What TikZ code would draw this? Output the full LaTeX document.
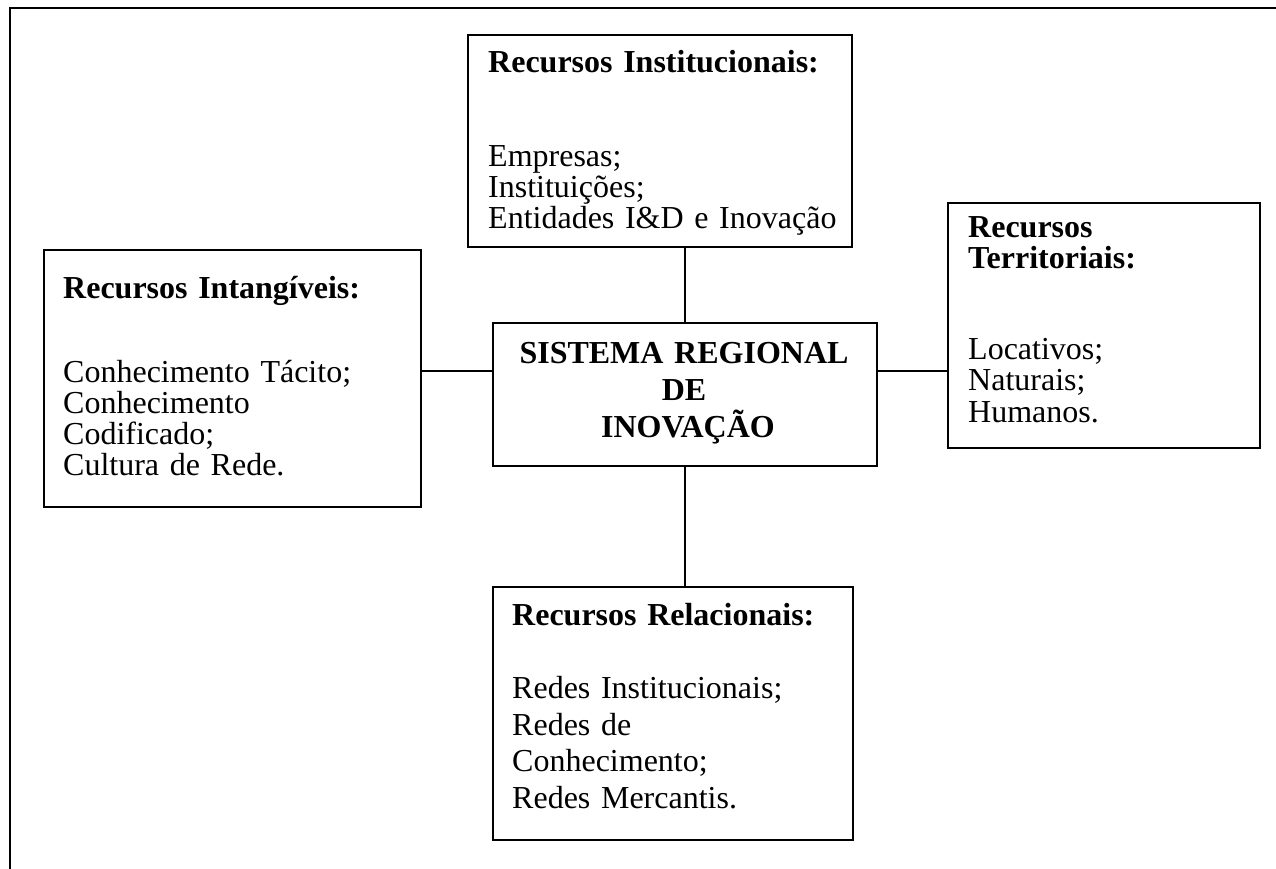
\documentclass[tikz,border=0pt]{standalone}
\usepackage{fontspec}
\setmainfont{Liberation Serif}
\setlength{\lineskiplimit}{-100pt}
\begin{document}
\begin{tikzpicture}[x=1pt,y=-1pt,
  box/.style={draw, line width=1.8pt, inner sep=0pt, anchor=north west},
  txt/.style={anchor=base west, inner sep=0pt, text width=400pt, align=left},
  link/.style={line width=1.8pt}]
\useasboundingbox (0,0) rectangle (1276,869);
\draw[line width=2.2pt] (10,869) -- (10,8) -- (1276,8);

% boxes
\node[box, minimum width=384pt, minimum height=212pt] (inst) at (467,34) {};
\node[box, minimum width=377pt, minimum height=257pt] (intg) at (43,249) {};
\node[box, minimum width=312pt, minimum height=245pt] (terr) at (947,202) {};
\node[box, minimum width=360pt, minimum height=253pt] (rel) at (492,586) {};
\node[box, minimum width=384pt, minimum height=143pt] (sri) at (492,322) {};

% texts
\node[txt, font=\fontsize{32}{31}\selectfont] (instT) at (488,73)
  {\textbf{Recursos Institucionais:}\\[62.5pt]Empresas;\\Instituições;\\Entidades I\&D e Inovação};
\node[txt, font=\fontsize{32}{31}\selectfont] (intgT) at (63,298)
  {\textbf{Recursos Intangíveis:}\\[53.5pt]Conhecimento Tácito;\\Conhecimento\\Codificado;\\Cultura de Rede.};
\node[txt, font=\fontsize{32}{31.5}\selectfont] (terrT) at (968,237)
  {\textbf{Recursos}\\\textbf{Territoriais:}\\[59pt]Locativos;\\Naturais;\\Humanos.};
\node[txt, font=\fontsize{32}{36.7}\selectfont] (relT) at (512,625)
  {\textbf{Recursos Relacionais:}\\[36.7pt]Redes Institucionais;\\Redes de\\Conhecimento;\\Redes Mercantis.};
\node[anchor=base, inner sep=0pt, text width=384pt, align=center,
  font=\bfseries\fontsize{32}{37}\selectfont] (sriT) at (684,363)
  {SISTEMA REGIONAL\\DE\\\hspace*{8pt}INOVAÇÃO};

% connectors
\coordinate (hy) at (0,371);
\draw[link] (intg.east |- hy) -- (sri.west |- hy);
\draw[link] (sri.east |- hy) -- (terr.west |- hy);
\draw[link] (sri.north) -- (sri.north |- inst.south);
\draw[link] (sri.south) -- (sri.south |- rel.north);
\end{tikzpicture}
\end{document}
